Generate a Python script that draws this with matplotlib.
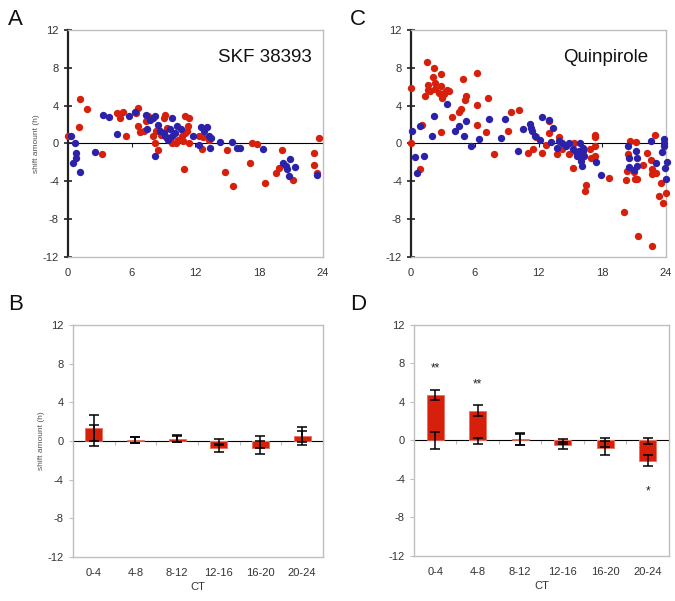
import numpy as np
import matplotlib
matplotlib.use("Agg")
from matplotlib import pyplot as plt

plt.rcParams['font.family'] = ['Liberation Sans', 'DejaVu Sans']
plt.rcParams['axes.unicode_minus'] = False

# panel A (SKF 38393): time (CT) and shift amount (h)
a_red_t = [0.0, 1.1, 1.0, 1.8, 3.2, 4.6, 4.9, 4.9, 5.2, 5.5, 6.4, 6.6, 6.6, 6.8, 7.2, 7.3, 7.5,
           8.0, 8.2, 8.5, 8.3, 9.1, 9.0, 8.8, 9.3, 9.6, 9.8, 10.2, 10.4, 10.7, 10.9, 11.0, 11.4,
           11.2, 11.0, 11.3, 10.8, 11.4, 12.3, 12.6, 12.7, 13.3, 14.8, 15.0, 15.5, 17.1, 17.3,
           17.8, 18.5, 19.6, 19.9, 20.1, 21.2, 23.2, 23.2, 23.4, 23.6]
a_red_v = [0.8, 4.7, 1.75, 3.6, -1.15, 3.2, 3.1, 2.7, 3.3, 0.8, 3.2, 3.8, 1.8, 1.2, 1.3, 2.35, 2.9,
           0.8, 0.0, -0.7, 1.3, 3.05, 2.7, 0.95, 1.65, 0.6, 0.1, 0.1, 0.4, 0.8, -2.7, 2.9, 2.7,
           1.3, 1.1, 1.9, 0.3, 0.0, 0.8, -0.6, 0.7, 0.4, -3.0, -0.7, -4.5, -2.1, 0.0,
           -0.1, -4.2, -3.1, -2.6, -0.7, -3.9, -1.05, -2.3, -3.1, 0.6]
a_blue_t = [0.26, 0.64, 0.5, 0.74, 0.74, 1.1, 2.5, 3.3, 3.9, 4.6, 5.7, 6.3, 7.3, 7.4, 7.7, 8.0,
            8.2, 8.5, 8.2, 8.7, 9.1, 9.4, 9.6, 9.8, 9.8, 10.1, 10.3, 10.6, 9.0, 9.3, 11.8, 12.3,
            12.5, 12.8, 13.1, 13.3, 13.4, 13.5, 14.3, 15.4, 15.9, 16.2, 18.4, 20.2, 20.5, 20.6,
            20.8, 20.9, 21.4, 23.4]
a_blue_v = [0.77, 0.0, -2.1, -1.0, -1.5, -3.0, -0.9, 3.0, 2.8, 1.0, 2.9, 3.3, 3.05, 1.5, 2.5, 2.7,
            2.95, 2.0, -1.3, 1.3, 0.77, 0.4, 1.5, 2.7, 0.77, 1.1, 1.8, 1.5, 1.1, 0.6, 0.77, -0.2,
            1.7, 1.3, 1.7, 0.77, -0.45, 0.6, 0.17, 0.17, -0.45, -0.45, -0.6, -2.1, -2.4, -2.7,
            -3.4, -1.6, -2.5, -3.3]

# panel C (Quinpirole)
c_red_t = [0.0, 0.0, 0.85, 1.07, 1.3, 1.5, 1.6, 1.6, 1.8, 2.1, 2.2, 2.3, 2.3, 2.6, 2.8, 2.8, 2.9,
           3.1, 3.2, 3.4, 3.6, 2.8, 3.9, 4.5, 4.7, 4.9, 5.1, 5.2, 6.2, 6.2, 6.2, 7.1, 7.2, 7.8,
           9.1, 9.45, 10.2, 11.0, 11.5, 11.8, 12.3, 12.7, 13.0, 13.0, 13.7, 13.9, 14.2, 14.9,
           15.2, 15.3, 15.8, 16.1, 16.4, 16.5, 16.8, 16.9, 17.3, 17.3, 17.3, 17.3, 18.6, 20.0,
           20.2, 20.3, 20.4, 20.6, 21.0, 21.1, 21.2, 21.3, 21.4, 21.8, 22.2, 22.6, 22.7, 22.7,
           22.7, 23.0, 23.1, 23.3, 23.5, 23.7, 24.0]
c_red_v = [5.86, 0.0, -2.7, 2.0, 5.05, 8.6, 6.2, 5.7, 5.5, 7.0, 8.0, 6.4, 5.75, 5.3, 7.3, 6.1, 4.8,
           5.2, 5.4, 5.7, 5.5, 1.2, 2.8, 3.3, 3.6, 6.8, 4.6, 5.0, 7.5, 4.1, 2.0, 1.2, 4.8, -1.15,
           1.3, 3.3, 3.5, -1.0, -0.55, 0.7, -1.0, -0.15, 2.35, 1.1, -1.15, 0.7, -0.6, -1.15,
           -2.55, 0.0, -1.05, -1.3, -5.0, -4.4, -0.6, -1.5, 0.7, 0.95, -0.3, -1.3, -3.6, -7.2,
           -3.9, -2.9, -1.1, 0.25, -3.0, -3.8, 0.15, -3.8, -9.8, -2.3, -1.05, -1.75, -10.8, -2.75,
           -3.25, 0.85, -3.15, -5.6, -4.15, -6.3, -5.2]
c_blue_t = [0.06, 0.4, 0.6, 0.85, 1.2, 1.95, 2.2, 3.4, 4.1, 4.5, 5.0, 5.15, 5.6, 6.4, 7.35, 8.5,
            8.8, 10.1, 10.5, 11.2, 11.25, 11.4, 11.7, 12.1, 12.3, 13.0, 13.4, 13.2, 13.7, 13.9,
            14.2, 14.6, 14.9, 15.2, 15.5, 15.6, 15.8, 15.9, 16.0, 16.1, 16.15, 16.2, 16.3, 15.95,
            17.4, 17.9, 20.4, 20.5, 20.5, 21.0, 21.2, 21.3, 21.3, 22.6, 23.1, 23.6, 23.8, 23.8,
            23.8, 23.9, 24.0, 24.1]
c_blue_v = [1.3, -1.45, -3.1, 1.9, -1.3, 0.77, 2.9, 4.2, 1.3, 1.9, 0.77, 2.35, -0.3, 0.5, 2.6, 0.6,
            2.6, -0.75, 1.5, 2.1, 1.65, 1.35, 0.77, 0.35, 2.75, 2.45, 1.65, 0.15, -0.45, 0.25,
            0.0, -0.3, 0.07, -0.6, -0.9, -1.3, -0.8, -1.3, -1.8, -2.4, -0.5, -0.8, -1.3, 0.0,
            -2.0, -3.3, -0.3, -1.5, -2.5, -2.8, -0.8, -1.5, -2.4, 0.3, -2.1, -0.9, 0.5, 0.07,
            -0.3, -2.55, -3.8, -1.95]

# panels B and D: mean shift per CT bin
ct_bins = ['0-4', '4-8', '8-12', '12-16', '16-20', '20-24']
b_drug_mean = [1.3, 0.1, 0.25, -0.7, -0.7, 0.5]
b_drug_sem = [1.35, 0.3, 0.35, 0.4, 0.65, 0.95]
b_ctrl_mean = [0.6, 0.1, 0.2, -0.1, -0.1, 0.45]
b_ctrl_sem = [1.1, 0.3, 0.35, 0.3, 0.6, 0.6]
d_drug_mean = [4.7, 3.1, 0.15, -0.5, -0.8, -2.1]
d_drug_sem = [0.5, 0.55, 0.6, 0.35, 0.75, 0.6]
d_ctrl_mean = [0.0, -0.05, 0.1, -0.1, -0.2, -0.05]
d_ctrl_sem = [0.9, 0.35, 0.6, 0.25, 0.5, 0.35]
d_stars = ['**', '**', '', '', '', '*']
d_star_y = [7.5, 5.8, 0, 0, 0, -5.3]

RED = '#d7200c'
BLUE = '#2c22aa'
GRID = '#bfbfbf'
TXT = '#333333'

fig = plt.figure(figsize=(6.75, 6.01), dpi=100)

yt = [-12, -8, -4, 0, 4, 8, 12]


def scatter_panel(rect, red_t, red_v, blue_t, blue_v, title, tx, ylabel):
    ax = fig.add_axes(rect)
    ax.scatter(red_t, red_v, s=28, color=RED, linewidths=0, clip_on=False, zorder=3)
    ax.scatter(blue_t, blue_v, s=28, color=BLUE, linewidths=0, clip_on=False, zorder=3)
    ax.set_xlim(0, 24)
    ax.set_ylim(-12, 12)
    ax.set_xticks([0, 6, 12, 18, 24])
    ax.set_yticks(yt)
    ax.tick_params(axis='x', length=0, labelsize=8, labelcolor=TXT, pad=8)
    ax.tick_params(axis='y', direction='inout', length=6, width=1.2, labelsize=8,
                   labelcolor=TXT, color='#222222')
    for s in ['top', 'right', 'bottom']:
        ax.spines[s].set_color(GRID)
        ax.spines[s].set_linewidth(1.0)
    ax.spines['left'].set_color('#222222')
    ax.spines['left'].set_linewidth(1.6)
    sec = ax.secondary_xaxis(0.5)
    sec.set_xticks([6, 12, 18])
    sec.set_xticklabels([])
    sec.tick_params(direction='in', length=3, color='#222222')
    sec.spines['bottom'].set_color('#222222')
    sec.spines['bottom'].set_linewidth(1.6)
    ax.text(tx, 0.88, title, transform=ax.transAxes, ha='right', va='center', fontsize=13.5,
            color='#111111')
    if ylabel:
        ax.set_ylabel('shift amount (h)', fontsize=6, color='#555555', labelpad=2)
    return ax


def bar_panel(rect, drug_m, drug_s, ctrl_m, ctrl_s, ylabel):
    ax = fig.add_axes(rect)
    x = np.arange(len(ct_bins))
    ax.bar(x, ctrl_m, width=0.41, color='white', edgecolor='none', zorder=2)
    ax.bar(x, drug_m, width=0.41, color=RED, edgecolor='#e8705e', linewidth=0.6, zorder=2)
    ax.errorbar(x, drug_m, yerr=drug_s, fmt='none', ecolor='black', elinewidth=1.1,
                capsize=3.5, capthick=1.1, zorder=4)
    ax.errorbar(x, ctrl_m, yerr=ctrl_s, fmt='none', ecolor='black', elinewidth=1.1,
                capsize=3.5, capthick=1.1, zorder=4)
    ax.set_xlim(-0.5, len(ct_bins) - 0.5)
    ax.set_ylim(-12, 12)
    ax.set_xticks(x)
    ax.set_xticklabels(ct_bins)
    ax.set_yticks(yt)
    ax.tick_params(axis='x', length=0, labelsize=8, labelcolor=TXT, pad=8)
    ax.tick_params(axis='y', length=3, color=GRID, labelsize=8, labelcolor=TXT)
    for s in ax.spines.values():
        s.set_color(GRID)
        s.set_linewidth(1.0)
    sec = ax.secondary_xaxis(0.5)
    sec.set_xticks(np.arange(len(ct_bins) + 1) - 0.5)
    sec.set_xticklabels([])
    sec.tick_params(direction='in', length=3, color=GRID)
    sec.spines['bottom'].set_color('#a6a6a6')
    sec.spines['bottom'].set_linewidth(1.0)
    ax.set_xlabel('CT', fontsize=8, color=TXT, labelpad=3)
    if ylabel:
        ax.set_ylabel('shift amount (h)', fontsize=6, color='#555555', labelpad=2)
    return ax


ax_a = scatter_panel([0.1007, 0.5724, 0.3778, 0.3777], a_red_t, a_red_v, a_blue_t, a_blue_v,
                     'SKF 38393', 0.957, True)
ax_c = scatter_panel([0.6089, 0.5724, 0.3778, 0.3777], c_red_t, c_red_v, c_blue_t, c_blue_v,
                     'Quinpirole', 0.93, False)
ax_b = bar_panel([0.108, 0.0732, 0.3704, 0.386], b_drug_mean, b_drug_sem, b_ctrl_mean,
                 b_ctrl_sem, True)
ax_d = bar_panel([0.6133, 0.0749, 0.3778, 0.3844], d_drug_mean, d_drug_sem, d_ctrl_mean,
                 d_ctrl_sem, False)

for i, st in enumerate(d_stars):
    if st:
        ax_d.text(i, d_star_y[i], st, ha='center', va='center', fontsize=8.5, color='#222222')

for lab, xx, yy in [('A', 0.012, 0.968), ('C', 0.518, 0.968), ('B', 0.012, 0.494),
                    ('D', 0.518, 0.494)]:
    fig.text(xx, yy, lab, fontsize=16, ha='left', va='center', color='#111111')

plt.savefig('out.png', dpi=100)
